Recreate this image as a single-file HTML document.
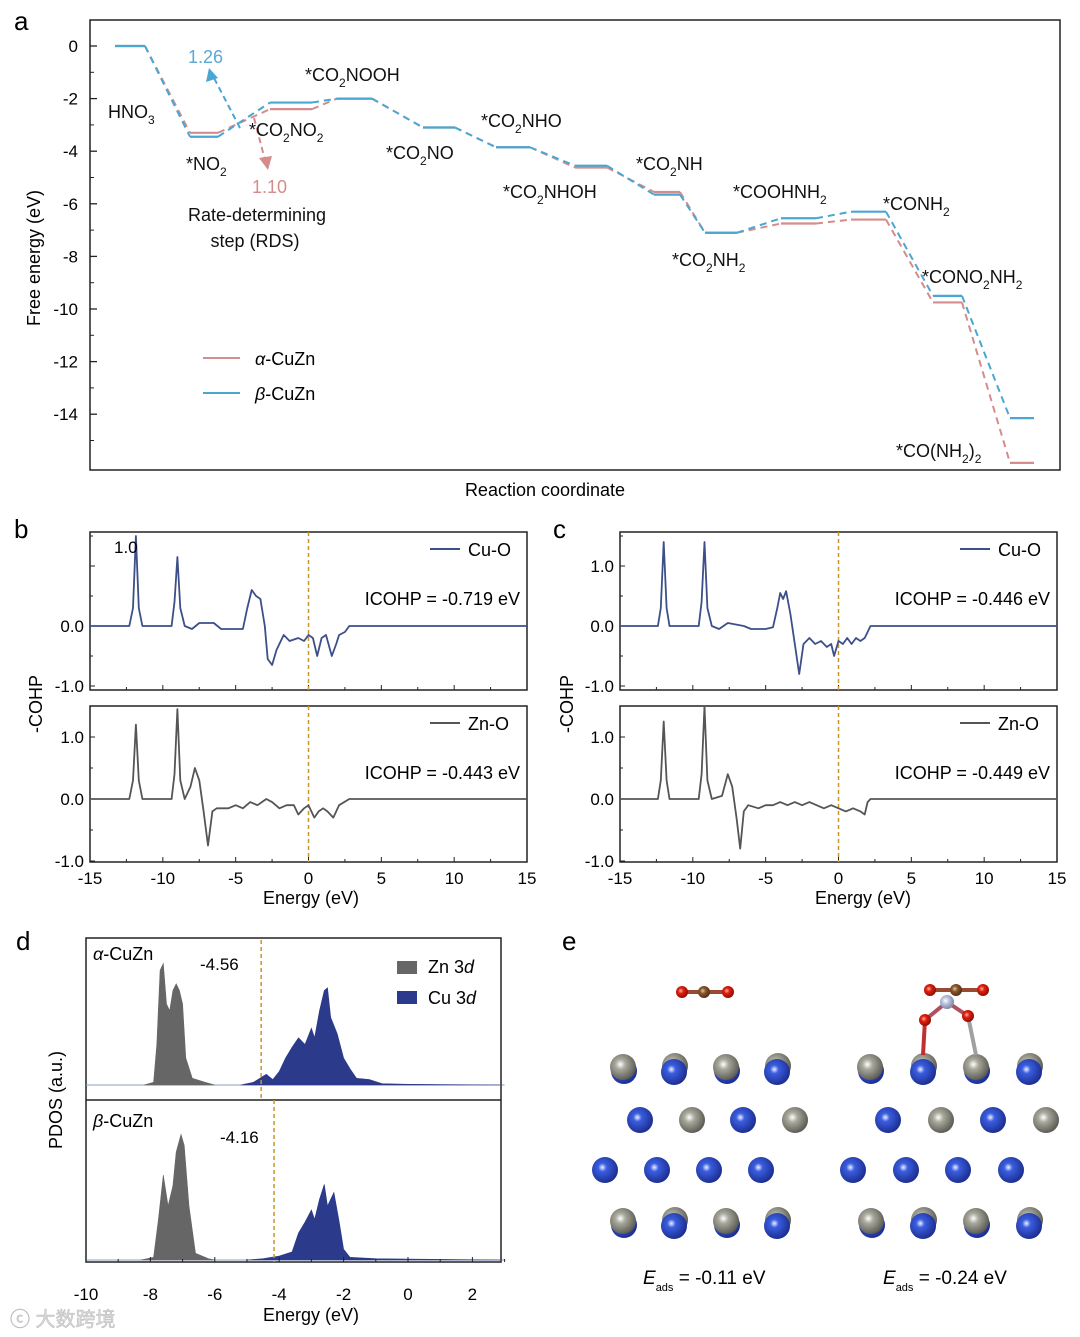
<!DOCTYPE html>
<html><head><meta charset="utf-8">
<style>
html,body{margin:0;padding:0;background:#fff;}
svg{display:block;font-family:"Liberation Sans","Noto Sans CJK SC",sans-serif;}
</style></head>
<body>
<svg id="fig" width="1080" height="1337" viewBox="0 0 1080 1337" xmlns="http://www.w3.org/2000/svg">
<defs>
<radialGradient id="gBlue" cx="0.4" cy="0.4" r="0.65"><stop offset="0" stop-color="#eef2ff"/><stop offset="0.25" stop-color="#3a5ee0"/><stop offset="1" stop-color="#1a2a8a"/></radialGradient>
<radialGradient id="gGray" cx="0.4" cy="0.4" r="0.65"><stop offset="0" stop-color="#ffffff"/><stop offset="0.3" stop-color="#a8a89c"/><stop offset="1" stop-color="#55554e"/></radialGradient>
<radialGradient id="gRed" cx="0.4" cy="0.4" r="0.65"><stop offset="0" stop-color="#ffb0a0"/><stop offset="0.35" stop-color="#e02010"/><stop offset="1" stop-color="#8a0a00"/></radialGradient>
<radialGradient id="gBrown" cx="0.4" cy="0.4" r="0.65"><stop offset="0" stop-color="#e8c8a0"/><stop offset="0.35" stop-color="#8a5a30"/><stop offset="1" stop-color="#4a2a10"/></radialGradient>
<radialGradient id="gN" cx="0.4" cy="0.4" r="0.65"><stop offset="0" stop-color="#ffffff"/><stop offset="0.4" stop-color="#b8c0dc"/><stop offset="1" stop-color="#7880a0"/></radialGradient>
</defs>

<!-- panel letters -->
<text x="14" y="30" font-size="26">a</text>
<text x="14" y="538" font-size="26">b</text>
<text x="553" y="538" font-size="26">c</text>
<text x="16" y="950" font-size="26">d</text>
<text x="562" y="950" font-size="26">e</text>

<!-- panel a static -->
<g id="pa"></g>
<rect x="90" y="20" width="970" height="450" fill="none" stroke="#222" stroke-width="1.5"/>
<text transform="translate(40,258) rotate(-90)" font-size="18" text-anchor="middle">Free energy (eV)</text>
<text x="545" y="496" font-size="18" text-anchor="middle">Reaction coordinate</text>
<g font-size="18" fill="#111">
<text x="108" y="118">HNO<tspan font-size="12" dy="6">3</tspan></text>
<text x="186" y="170">*NO<tspan font-size="12" dy="6">2</tspan></text>
<text x="249" y="136">*CO<tspan font-size="12" dy="6">2</tspan><tspan dy="-6">NO</tspan><tspan font-size="12" dy="6">2</tspan></text>
<text x="305" y="81">*CO<tspan font-size="12" dy="6">2</tspan><tspan dy="-6">NOOH</tspan></text>
<text x="386" y="159">*CO<tspan font-size="12" dy="6">2</tspan><tspan dy="-6">NO</tspan></text>
<text x="481" y="127">*CO<tspan font-size="12" dy="6">2</tspan><tspan dy="-6">NHO</tspan></text>
<text x="503" y="198">*CO<tspan font-size="12" dy="6">2</tspan><tspan dy="-6">NHOH</tspan></text>
<text x="636" y="170">*CO<tspan font-size="12" dy="6">2</tspan><tspan dy="-6">NH</tspan></text>
<text x="733" y="198">*COOHNH<tspan font-size="12" dy="6">2</tspan></text>
<text x="672" y="266">*CO<tspan font-size="12" dy="6">2</tspan><tspan dy="-6">NH</tspan><tspan font-size="12" dy="6">2</tspan></text>
<text x="883" y="210">*CONH<tspan font-size="12" dy="6">2</tspan></text>
<text x="922" y="283">*CONO<tspan font-size="12" dy="6">2</tspan><tspan dy="-6">NH</tspan><tspan font-size="12" dy="6">2</tspan></text>
<text x="896" y="457">*CO(NH<tspan font-size="12" dy="6">2</tspan><tspan dy="-6">)</tspan><tspan font-size="12" dy="6">2</tspan></text>
<text x="257" y="221" text-anchor="middle">Rate-determining</text>
<text x="255" y="247" text-anchor="middle">step (RDS)</text>
<text x="188" y="63" fill="#5aa8d4">1.26</text>
<text x="252" y="193" fill="#d48c8c">1.10</text>
</g>
<g font-size="18">
<line x1="203" y1="358" x2="240" y2="358" stroke="#d48c8c" stroke-width="2"/>
<text x="255" y="365"><tspan font-style="italic">α</tspan>-CuZn</text>
<line x1="203" y1="393" x2="240" y2="393" stroke="#4aa6d2" stroke-width="2"/>
<text x="255" y="400"><tspan font-style="italic">β</tspan>-CuZn</text>
</g>

<!-- panels b/c -->
<g id="pbc"></g>
<text transform="translate(42,704) rotate(-90)" font-size="18" text-anchor="middle">-COHP</text>
<text transform="translate(573,704) rotate(-90)" font-size="18" text-anchor="middle">-COHP</text>
<text x="311" y="904" font-size="18" text-anchor="middle">Energy (eV)</text>
<text x="863" y="904" font-size="18" text-anchor="middle">Energy (eV)</text>

<!-- panel d -->
<g id="pd"></g>
<text transform="translate(62,1100) rotate(-90)" font-size="18" text-anchor="middle">PDOS (a.u.)</text>
<text x="311" y="1321" font-size="18" text-anchor="middle">Energy (eV)</text>
<text x="93" y="960" font-size="18"><tspan font-style="italic">α</tspan>-CuZn</text>
<text x="93" y="1127" font-size="18"><tspan font-style="italic">β</tspan>-CuZn</text>
<text x="200" y="970" font-size="17">-4.56</text>
<text x="220" y="1143" font-size="17">-4.16</text>
<rect x="397" y="961" width="20" height="13" fill="#666"/>
<text x="428" y="973" font-size="18">Zn 3<tspan font-style="italic">d</tspan></text>
<rect x="397" y="991" width="20" height="13" fill="#2b3a8a"/>
<text x="428" y="1004" font-size="18">Cu 3<tspan font-style="italic">d</tspan></text>

<!-- panel e -->
<g id="pe"></g>
<text x="643" y="1284" font-size="19"><tspan font-style="italic">E</tspan><tspan font-size="11" dy="7">ads</tspan><tspan dy="-7"> = -0.11 eV</tspan></text>
<text x="883" y="1284" font-size="19"><tspan font-style="italic">E</tspan><tspan font-size="11" dy="7">ads</tspan><tspan dy="-7"> = -0.24 eV</tspan></text>

<text x="10" y="1326" font-size="20" fill="#d8d8d8" stroke="#bbb" stroke-width="0.5">ⓒ 大数跨境</text>
</svg>

<script>
// ===== Panel a data =====
const stateNames = ['HNO3','NO2','CO2NO2','CO2NOOH','CO2NO','CO2NHO','CO2NHOH','CO2NH','CO2NH2','COOHNH2','CONH2','CONO2NH2','CO(NH2)2'];
const stepStart = [0,1,2,3,4,5,6,7,8,9,10,11,12];
const alphaEnergy = [0,-3.3,-2.4,-2.0,-3.1,-3.85,-4.62,-5.55,-7.1,-6.75,-6.6,-9.75,-15.85];
const betaEnergy  = [0,-3.45,-2.15,-2.0,-3.1,-3.85,-4.55,-5.65,-7.1,-6.55,-6.3,-9.5,-14.15];
const yTicksA = [0,-2,-4,-6,-8,-10,-12,-14];
const stepX0 = [115,190,270,337,423,496,575,654,705,781,851,933,1010];
const stepX1 = [145,218,312,372,455,530,607,680,737,816,886,962,1034];

const NS='http://www.w3.org/2000/svg';
function mk(parent, tag, attrs){const e=document.createElementNS(NS,tag);for(const k in attrs)e.setAttribute(k,attrs[k]);parent.appendChild(e);return e;}

const pa=document.getElementById('pa');
const yA = v => 46 - v*26.3;
yTicksA.forEach(v=>{
  const t=mk(pa,'line',{x1:90,x2:97,y1:yA(v),y2:yA(v),stroke:'#222','stroke-width':1.3});
  
  
  const m=mk(pa,'line',{x1:90,x2:94,y1:yA(v-1),y2:yA(v-1),stroke:'#222','stroke-width':1});
  
  
  const l=mk(pa,'text',{x:78,y:yA(v)+6,'font-size':17,'text-anchor':'end'});
  l.textContent=v;
  
  
});
function drawPath(energy,color,name){
  for(let i=0;i<energy.length;i++){
    const s=mk(pa,'line',{x1:stepX0[stepStart[i]],x2:stepX1[stepStart[i]],y1:yA(energy[i]),y2:yA(energy[i]),stroke:color,'stroke-width':2.2});
    
    
    if(i<energy.length-1){
      const c=mk(pa,'line',{x1:stepX1[i],x2:stepX0[i+1],y1:yA(energy[i]),y2:yA(energy[i+1]),stroke:color,'stroke-width':2,'stroke-dasharray':'7,5'});
      
      
    }
  }
}
drawPath(alphaEnergy,'#d48c8c','alpha');
drawPath(betaEnergy,'#4aa6d2','beta');
// RDS arrows
const ab=mk(pa,'line',{x1:240,y1:128,x2:214,y2:78,stroke:'#4aa6d2','stroke-width':2,'stroke-dasharray':'6,4'});


const ah=mk(pa,'polygon',{points:'209,68 206,82 218,78',fill:'#4aa6d2'});


const aa=mk(pa,'line',{x1:254,y1:118,x2:265,y2:160,stroke:'#d48c8c','stroke-width':2,'stroke-dasharray':'6,4'});


const aah=mk(pa,'polygon',{points:'268,170 259,158 272,156',fill:'#d48c8c'});



// ===== Panels b/c data =====
const cohpB_CuO=[[-15,0],[-12.3,0],[-12.05,0.3],[-11.85,1.5],[-11.65,0.3],[-11.4,0],[-9.4,0],[-9.2,0.4],[-9.0,1.15],[-8.8,0.3],[-8.5,0],[-8,-0.05],[-7.5,0.05],[-6.5,0.05],[-6,-0.05],[-5,-0.05],[-4.5,-0.05],[-4.2,0.3],[-3.9,0.6],[-3.6,0.5],[-3.3,0.45],[-3.0,0],[-2.8,-0.55],[-2.5,-0.65],[-2.2,-0.4],[-1.7,-0.15],[-1.3,-0.25],[-0.7,-0.2],[-0.3,-0.25],[0,-0.15],[0.3,-0.2],[0.6,-0.5],[0.9,-0.2],[1.2,-0.15],[1.6,-0.5],[1.9,-0.3],[2.1,-0.15],[2.5,-0.1],[2.8,0],[15,0]];
const cohpB_ZnO=[[-15,0],[-12.3,0],[-12.05,0.3],[-11.85,1.2],[-11.65,0.3],[-11.4,0],[-9.4,0],[-9.2,0.4],[-9.0,1.45],[-8.8,0.3],[-8.5,0],[-8.1,0.2],[-7.8,0.5],[-7.5,0.3],[-7.2,-0.2],[-6.9,-0.75],[-6.6,-0.2],[-6.3,-0.15],[-5.5,-0.15],[-5,-0.1],[-4.5,-0.15],[-4,-0.05],[-3.5,-0.1],[-2.9,0.0],[-2.5,-0.05],[-2,-0.15],[-1.5,-0.1],[-1,-0.1],[-0.7,-0.25],[-0.3,-0.15],[0,-0.1],[0.4,-0.3],[0.7,-0.2],[1.0,-0.15],[1.3,-0.2],[1.7,-0.3],[2.1,-0.1],[2.8,0],[15,0]];
const cohpC_CuO=[[-15,0],[-12.4,0],[-12.2,0.3],[-12.0,1.4],[-11.8,0.3],[-11.6,0],[-9.6,0],[-9.4,0.4],[-9.2,1.4],[-9.0,0.3],[-8.7,0],[-8.2,-0.05],[-7.6,0.05],[-6.5,0.0],[-6,-0.05],[-5,-0.05],[-4.5,-0.02],[-4.2,0.3],[-4.0,0.55],[-3.8,0.45],[-3.6,0.58],[-3.3,0.2],[-3.0,-0.3],[-2.7,-0.8],[-2.4,-0.3],[-2.0,-0.2],[-1.6,-0.3],[-1.2,-0.25],[-0.8,-0.35],[-0.5,-0.3],[-0.3,-0.5],[0,-0.25],[0.3,-0.3],[0.6,-0.2],[0.9,-0.3],[1.2,-0.2],[1.5,-0.25],[1.8,-0.2],[2.2,0],[15,0]];
const cohpC_ZnO=[[-15,0],[-12.4,0],[-12.2,0.3],[-12.0,1.25],[-11.8,0.3],[-11.6,0],[-9.6,0],[-9.4,0.4],[-9.2,1.5],[-9.0,0.3],[-8.7,0],[-8.0,0.05],[-7.6,0.4],[-7.3,0.2],[-7.0,-0.3],[-6.75,-0.8],[-6.5,-0.2],[-6.2,-0.1],[-5.5,-0.15],[-5,-0.1],[-4.5,-0.1],[-4,-0.05],[-3.5,-0.1],[-3,-0.05],[-2.5,-0.1],[-2,-0.05],[-1.5,-0.1],[-1,-0.15],[-0.5,-0.1],[0,-0.15],[0.5,-0.2],[1,-0.15],[1.5,-0.2],[1.8,-0.25],[2.0,-0.05],[2.2,0],[15,0]];
const xTicksBC=[-15,-10,-5,0,5,10,15];
const yTicksBC=[-1.0,0.0,1.0];

const pbc=document.getElementById('pbc');
function cohpPanel(left,top,bottom,zeroY,scale,data,color,key,ic,showXLabels,yLabs){
  const x=e=>left+(e+15)*437/30;
  const y=v=>zeroY-v*scale;
  const fr=mk(pbc,'rect',{x:left,y:top,width:437,height:bottom-top,fill:'none',stroke:'#222','stroke-width':1.5});
  
  
  for(let e=-15;e<=15;e+=2.5){
    const t=mk(pbc,'line',{x1:x(e),x2:x(e),y1:bottom,y2:bottom-(e%5===0?5:3),stroke:'#222','stroke-width':1});
    
    
  }
  for(let v=-1;v<=1.5;v+=0.5){
    const yy=y(v); if(yy<top||yy>bottom) continue;
    const t=mk(pbc,'line',{x1:left,x2:left+(Math.abs(v%1)<0.01?5:3),y1:yy,y2:yy,stroke:'#222','stroke-width':1});
    
    
  }
  yLabs.forEach(v=>{
    const l=mk(pbc,'text',{x:left-6,y:y(v)+6,'font-size':17,'text-anchor':'end'});
    l.textContent=v.toFixed(1);
    
    
  });
  if(showXLabels) xTicksBC.forEach(e=>{
    const l=mk(pbc,'text',{x:x(e),y:bottom+22,'font-size':17,'text-anchor':'middle'});
    l.textContent=e;
    
    
  });
  const d=mk(pbc,'line',{x1:x(0),x2:x(0),y1:top,y2:bottom,stroke:'#c8962a','stroke-width':1.5,'stroke-dasharray':'4,3'});
  
  
  const p=mk(pbc,'polyline',{points:data.map(q=>x(q[0]).toFixed(1)+','+y(q[1]).toFixed(1)).join(' '),fill:'none',stroke:color,'stroke-width':1.8,'stroke-linejoin':'round'});
  
  
  const ll=mk(pbc,'line',{x1:left+340,x2:left+370,y1:top+17,y2:top+17,stroke:color,'stroke-width':2});
  
  
  const lt=mk(pbc,'text',{x:left+378,y:top+24,'font-size':18});
  lt.textContent=key.indexOf('cu')>=0?'Cu-O':'Zn-O';
  
  
  const it=mk(pbc,'text',{x:left+430,y:top+73,'font-size':18,'text-anchor':'end'});
  it.textContent=ic;
  
  
}
cohpPanel(90,532,690,626,60,cohpB_CuO,'#3c4f88','b-cu','ICOHP = -0.719  eV',false,[0.0,-1.0]);
cohpPanel(90,706,862,799,62,cohpB_ZnO,'#555','b-zn','ICOHP = -0.443  eV',true,[1.0,0.0,-1.0]);
cohpPanel(620,532,690,626,60,cohpC_CuO,'#3c4f88','c-cu','ICOHP = -0.446  eV',false,[1.0,0.0,-1.0]);
cohpPanel(620,706,862,799,62,cohpC_ZnO,'#555','c-zn','ICOHP = -0.449  eV',true,[1.0,0.0,-1.0]);
const onep=mk(pbc,'text',{x:114,y:553,'font-size':17});
onep.textContent='1.0';



// ===== Panel d data =====
const pdosAlphaZn=[[-8.2,0],[-7.9,0.02],[-7.8,0.3],[-7.7,0.85],[-7.6,0.9],[-7.5,0.6],[-7.4,0.55],[-7.3,0.7],[-7.2,0.75],[-7.1,0.7],[-7.0,0.6],[-6.9,0.2],[-6.7,0.05],[-6.3,0.02],[-6,0]];
const pdosAlphaCu=[[-5.2,0],[-4.8,0.02],[-4.4,0.08],[-4.2,0.04],[-4.0,0.1],[-3.8,0.2],[-3.6,0.28],[-3.4,0.35],[-3.2,0.3],[-3.0,0.42],[-2.9,0.35],[-2.75,0.55],[-2.6,0.7],[-2.5,0.72],[-2.4,0.5],[-2.2,0.38],[-2.0,0.2],[-1.8,0.12],[-1.6,0.05],[-1.2,0.04],[-0.8,0.01],[0,0.005],[3,0]];
const pdosBetaZn=[[-8.3,0],[-7.9,0.02],[-7.75,0.3],[-7.6,0.63],[-7.45,0.4],[-7.3,0.55],[-7.2,0.8],[-7.05,0.93],[-6.95,0.85],[-6.8,0.4],[-6.6,0.05],[-6.2,0.01],[-6,0]];
const pdosBetaCu=[[-5,0],[-4.5,0.01],[-4,0.03],[-3.6,0.06],[-3.4,0.2],[-3.2,0.28],[-3.0,0.37],[-2.9,0.3],[-2.75,0.45],[-2.6,0.56],[-2.5,0.4],[-2.3,0.5],[-2.15,0.3],[-2.0,0.08],[-1.8,0.02],[-1,0.01],[3,0]];
const dBandCenters=[-4.56,-4.16];
const xTicksD=[-10,-8,-6,-4,-2,0,2];

const pd=document.getElementById('pd');
const xD=e=>86+(e+10)*32.2;
const fd=mk(pd,'rect',{x:86,y:938,width:415,height:324,fill:'none',stroke:'#222','stroke-width':1.5});


const sep=mk(pd,'line',{x1:86,x2:501,y1:1100,y2:1100,stroke:'#222','stroke-width':1.5});


[1085,1260].forEach(b=>{
  const bl=mk(pd,'line',{x1:86,x2:501,y1:b,y2:b,stroke:'#8aa0c0','stroke-width':1});
  
  
});
function area(data,base,color,name){
  const pts=data.map(q=>xD(q[0]).toFixed(1)+','+(base-q[1]*135).toFixed(1));
  const p=mk(pd,'polygon',{points:xD(data[0][0])+','+base+' '+pts.join(' ')+' '+xD(data[data.length-1][0])+','+base,fill:color,stroke:color,'stroke-width':0.6});
  
  
}
area(pdosAlphaZn,1085,'#666','pdos-alpha-zn3d');
area(pdosAlphaCu,1085,'#2b3a8a','pdos-alpha-cu3d');
area(pdosBetaZn,1260,'#666','pdos-beta-zn3d');
area(pdosBetaCu,1260,'#2b3a8a','pdos-beta-cu3d');
[[dBandCenters[0],940,1100],[dBandCenters[1],1100,1262]].forEach(c=>{
  const l=mk(pd,'line',{x1:xD(c[0]),x2:xD(c[0]),y1:c[1],y2:c[2],stroke:'#c8962a','stroke-width':1.5,'stroke-dasharray':'4,3'});
  
  
});
for(let e=-10;e<=3;e+=1){
  const t=mk(pd,'line',{x1:xD(e),x2:xD(e),y1:1262,y2:1262-(e%2===0?5:3),stroke:'#222','stroke-width':1});
  
  
}
xTicksD.forEach(e=>{
  const l=mk(pd,'text',{x:xD(e),y:1300,'font-size':17,'text-anchor':'middle'});
  l.textContent=e;
  
  
});

// ===== Panel e structures =====
const pe=document.getElementById('pe');
function atom(x,y,r,g,name){const c=mk(pe,'circle',{cx:x,cy:y,r:r,fill:'url(#'+g+')'});}
function bond(x1,y1,x2,y2,c){const l=mk(pe,'line',{x1:x1,y1:y1,x2:x2,y2:y2,stroke:c,'stroke-width':4});}
const rowY=[1068,1120,1170,1222];
const rowsL=[[623,674,726,777],[640,692,743,795],[605,657,709,761],[623,674,726,777]];
const rowsR=[[870,923,976,1029],[888,941,993,1046],[853,906,958,1011],[871,923,976,1029]];
const rowType=[['g','b','g','b'],['b','g','b','g'],['b','b','b','b'],['g','b','g','b']];
[rowsL,rowsR].forEach(rows=>{
  rows.forEach((r,i)=>r.forEach((x,j)=>{
    const t=rowType[i][j];
    if(i===0||i===3){ atom(x+1,rowY[i]+(t==='b'?-2:3),13,t==='b'?'gGray':'gBlue','atom-back'); }
    atom(x,rowY[i]+(i===0||i===3?(t==='b'?4:-1):0),13,t==='b'?'gBlue':'gGray',t==='b'?'cu-atom':'zn-atom');
  }));
});
// CO2 left
bond(682,992,728,992,'#9a4a30');
atom(682,992,6,'gRed','o-atom');atom(704,992,6,'gBrown','c-atom');atom(728,992,6,'gRed','o-atom');
// right adsorbate
bond(930,990,983,990,'#9a4a30');
bond(925,1020,947,1002,'#b05060');bond(968,1016,947,1002,'#b05060');
bond(925,1020,923,1055,'#c03030');bond(968,1016,976,1055,'#a0a0a0');
atom(930,990,6,'gRed','o-atom');atom(956,990,6,'gBrown','c-atom');atom(983,990,6,'gRed','o-atom');
atom(947,1002,7,'gN','n-atom');atom(925,1020,6,'gRed','o-atom');atom(968,1016,6,'gRed','o-atom');
</script>
</body></html>
